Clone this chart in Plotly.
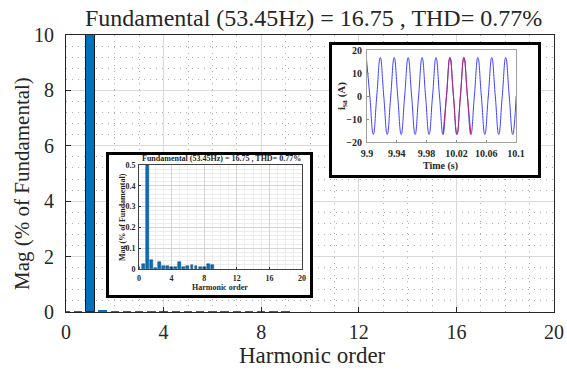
import plotly.graph_objects as go

# ---------------- data ----------------
main_title = "Fundamental (53.45Hz) = 16.75 , THD= 0.77%"

harmonic_order = [0, 0.5, 1, 1.5, 2, 2.5, 3, 3.5, 4, 4.5, 5, 5.5, 6, 6.5, 7, 7.5, 8, 8.5, 9]
mag_pct = [0.01, 0.025, 100, 0.045, 0.005, 0.035, 0.015, 0.013, 0.012, 0.012,
           0.035, 0.01, 0.015, 0.02, 0.015, 0.01, 0.01, 0.025, 0.018]

main_xticks = [0, 4, 8, 12, 16, 20]
main_yticks = [0, 2, 4, 6, 8, 10]
inset_yticks = [0, 0.1, 0.2, 0.3, 0.4, 0.5]

# current waveform: peaks / zero crossings / troughs
time_s = [9.89910, 9.90378, 9.90846, 9.91313, 9.91781, 9.92249, 9.92717, 9.93185,
          9.93652, 9.94120, 9.94588, 9.95056, 9.95524, 9.95991, 9.96459, 9.96927,
          9.97395, 9.97862, 9.98330, 9.98798, 9.99266, 9.99733, 10.00201, 10.00669,
          10.01137, 10.01605, 10.02072, 10.02540, 10.03008, 10.03476, 10.03944, 10.04411,
          10.04879, 10.05347, 10.05815, 10.06283, 10.06750, 10.07218, 10.07686, 10.08154,
          10.08622, 10.09089, 10.09557, 10.10025]
i_sa = [16.75, 0, -16.75, 0, 16.75, 0, -16.75, 0, 16.75, 0, -16.75, 0,
        16.75, 0, -16.75, 0, 16.75, 0, -16.75, 0, 16.75, 0, -16.75, 0,
        16.75, 0, -16.75, 0, 16.75, 0, -16.75, 0, 16.75, 0, -16.75, 0,
        16.75, 0, -16.75, 0, 16.75, 0, -16.75, 0]
fft_window_start = 22   # index of first sample in analysed window
fft_window_end = 30     # index of last sample in analysed window

time_ticks = [9.9, 9.94, 9.98, 10.02, 10.06, 10.1]
time_ticktext = ["9.9", "9.94", "9.98", "10.02", "10.06", "10.1"]
current_ticks = [-20, -10, 0, 10, 20]

# ---------------- layout helpers ----------------
W, H = 567, 374
SERIF = "Liberation Serif"


def px_x(p):
    return p / W


def px_y(p):
    return 1 - p / H


BAR_BLUE = "#0072BD"

fig = go.Figure()

# main spectrum (outline only drawn on visible bars)
main_edge = [1 if v > 1 else 0 for v in mag_pct]
fig.add_trace(go.Bar(x=harmonic_order, y=mag_pct, width=0.35,
                     marker=dict(color=BAR_BLUE, line=dict(color="#1a1a1a", width=main_edge)),
                     xaxis="x", yaxis="y", showlegend=False, hoverinfo="skip"))

# white box behind inset 1
fig.add_trace(go.Scatter(x=[], y=[], xaxis="x2", yaxis="y2", showlegend=False, hoverinfo="skip"))
# inset spectrum
fig.add_trace(go.Bar(x=harmonic_order, y=mag_pct, width=0.35,
                     marker=dict(color=BAR_BLUE, line=dict(color="#1a3f66", width=0.5)),
                     xaxis="x3", yaxis="y3", showlegend=False))
# white box behind inset 2
fig.add_trace(go.Scatter(x=[], y=[], xaxis="x4", yaxis="y4", showlegend=False, hoverinfo="skip"))
# waveform
fig.add_trace(go.Scatter(x=time_s, y=i_sa, mode="lines",
                         line=dict(color="#4040ff", width=1, shape="spline", smoothing=1.3),
                         xaxis="x5", yaxis="y5", showlegend=False))
fig.add_trace(go.Scatter(x=time_s[fft_window_start:fft_window_end + 1],
                         y=i_sa[fft_window_start:fft_window_end + 1], mode="lines",
                         line=dict(color="#b8256e", width=1, shape="spline", smoothing=1.3),
                         xaxis="x5", yaxis="y5", showlegend=False))

main_font = dict(family=SERIF, size=20, color="#262626")
tiny_font = dict(family=SERIF, size=8, color="#262626", weight="bold")
small_font = dict(family=SERIF, size=10, color="#262626", weight="bold")

box_axis = dict(showline=True, mirror=True, linecolor="black", linewidth=2.5,
                showgrid=False, zeroline=False, showticklabels=False, ticks="",
                range=[0, 1], fixedrange=True, automargin=False)

fig.update_layout(
    width=W, height=H,
    margin=dict(l=0, r=0, t=0, b=0, autoexpand=False),
    paper_bgcolor="white", plot_bgcolor="white",
    bargap=0,
    xaxis=dict(domain=[px_x(66), px_x(554)], range=[0, 20], tickvals=main_xticks,
               ticks="inside", ticklen=5, tickcolor="#262626",
               showline=True, mirror=True, linecolor="#262626", linewidth=1,
               showgrid=True, gridcolor="#d9d9d9", gridwidth=1, zeroline=False,
               minor=dict(dtick=1, tick0=0, showgrid=True, gridcolor="#b0b0b0",
                          griddash="1px,5px", gridwidth=1),
               tickfont=main_font, ticklabelstandoff=2, anchor="y", automargin=False),
    yaxis=dict(domain=[px_y(312), px_y(35)], range=[0, 10], tickvals=main_yticks,
               ticks="inside", ticklen=5, tickcolor="#262626",
               showline=True, mirror=True, linecolor="#262626", linewidth=1,
               showgrid=True, gridcolor="#d9d9d9", gridwidth=1, zeroline=False,
               minor=dict(dtick=0.4, tick0=0, showgrid=True, gridcolor="#b0b0b0",
                          griddash="1px,5px", gridwidth=1),
               tickfont=main_font, ticklabelstandoff=7, anchor="x", automargin=False),
    xaxis2=dict(domain=[px_x(109), px_x(310)], anchor="y2", **box_axis),
    yaxis2=dict(domain=[px_y(295), px_y(155)], anchor="x2", **box_axis),
    xaxis3=dict(domain=[px_x(139), px_x(302)], range=[0, 20], tickvals=main_xticks,
                ticks="inside", ticklen=2, tickcolor="#262626",
                showline=True, mirror=True, linecolor="#404040", linewidth=1,
                showgrid=True, gridcolor="#d4d4d4", zeroline=False,
                minor=dict(dtick=1, tick0=0, showgrid=True, gridcolor="#ededed"),
                tickfont=tiny_font, ticklabelstandoff=1, anchor="y3", automargin=False),
    yaxis3=dict(domain=[px_y(269), px_y(165)], range=[0, 0.5], tickvals=inset_yticks,
                ticks="inside", ticklen=2, tickcolor="#262626",
                showline=True, mirror=True, linecolor="#404040", linewidth=1,
                showgrid=True, gridcolor="#d4d4d4", zeroline=False,
                minor=dict(dtick=0.02, tick0=0, showgrid=True, gridcolor="#ededed"),
                tickfont=tiny_font, ticklabelstandoff=1, anchor="x3", automargin=False),
    xaxis4=dict(domain=[px_x(332), px_x(538)], anchor="y4", **box_axis),
    yaxis4=dict(domain=[px_y(175), px_y(45)], anchor="x4", **box_axis),
    xaxis5=dict(domain=[px_x(367), px_x(516)], range=[9.9, 10.1],
                tickvals=time_ticks, ticktext=time_ticktext,
                ticks="inside", ticklen=2, tickcolor="#888",
                showline=True, mirror=True, linecolor="#a0a0a0", linewidth=1,
                showgrid=False, zeroline=False,
                tickfont=small_font, ticklabelstandoff=2, anchor="y5", automargin=False),
    yaxis5=dict(domain=[px_y(142), px_y(50)], range=[-20, 20], tickvals=current_ticks,
                ticks="inside", ticklen=2, tickcolor="#888",
                showline=True, mirror=True, linecolor="#a0a0a0", linewidth=1,
                showgrid=False, zeroline=False,
                tickfont=small_font, ticklabelstandoff=2, anchor="x5", automargin=False),
)

annotations = [
    # main title
    dict(text=main_title, x=px_x(313), y=px_y(18), xref="paper", yref="paper",
         showarrow=False, xanchor="center", yanchor="middle",
         font=dict(family=SERIF, size=24, color="#262626")),
    dict(text="Harmonic order", x=px_x(312), y=px_y(355), xref="paper", yref="paper",
         showarrow=False, xanchor="center", yanchor="middle",
         font=dict(family=SERIF, size=23, color="#262626")),
    dict(text="Mag (% of Fundamental)", x=px_x(22), y=px_y(184), xref="paper", yref="paper",
         showarrow=False, xanchor="center", yanchor="middle", textangle=-90,
         font=dict(family=SERIF, size=21, color="#262626")),
    # inset 1
    dict(text="<b>" + main_title + "</b>", x=px_x(221), y=px_y(159), xref="paper", yref="paper",
         showarrow=False, xanchor="center", yanchor="middle",
         font=dict(family=SERIF, size=8, color="#262626")),
    dict(text="<b>Harmonic order</b>", x=px_x(220), y=px_y(287), xref="paper", yref="paper",
         showarrow=False, xanchor="center", yanchor="middle",
         font=dict(family=SERIF, size=8, color="#262626")),
    dict(text="<b>Mag (% of Fundamental)</b>", x=px_x(122), y=px_y(217), xref="paper", yref="paper",
         showarrow=False, xanchor="center", yanchor="middle", textangle=-90,
         font=dict(family=SERIF, size=8, color="#262626")),
    # inset 2
    dict(text="<b>Time (s)</b>", x=px_x(440), y=px_y(166), xref="paper", yref="paper",
         showarrow=False, xanchor="center", yanchor="middle",
         font=dict(family=SERIF, size=10, color="#262626")),
    dict(text="<b>i<sub>sa</sub> (A)</b>", x=px_x(342), y=px_y(96), xref="paper", yref="paper",
         showarrow=False, xanchor="center", yanchor="middle", textangle=-90,
         font=dict(family=SERIF, size=11, color="#262626")),
]
fig.update_layout(annotations=annotations)

# remove the page's default body margin so the figure fills the window exactly
fig.write_html("out.html",
               config={"displayModeBar": False},
               post_script="document.body.style.margin='0';"
                           "document.documentElement.style.overflow='hidden';")
